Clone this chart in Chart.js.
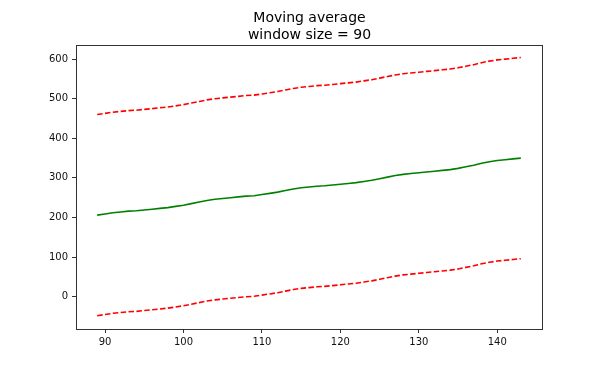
<!DOCTYPE html>
<html>
<head>
<meta charset="utf-8">
<script src="https://cdn.jsdelivr.net/npm/chart.js@4/dist/chart.umd.min.js"></script>
<style>
  html, body { margin: 0; padding: 0; background: #fff; }
  #wrap { width: 602px; height: 376px; }
</style>
</head>
<body>
<div id="wrap"><canvas id="chart" width="602" height="376"></canvas></div>
<script>
// x positions (window end index)
const xValues = [89, 90, 91, 92, 93, 94, 95, 96, 97, 98, 99, 100, 101, 102, 103, 104, 105, 106, 107, 108,
  109, 110, 111, 112, 113, 114, 115, 116, 117, 118, 119, 120, 121, 122, 123, 124, 125, 126, 127, 128,
  129, 130, 131, 132, 133, 134, 135, 136, 137, 138, 139, 140, 141, 142, 143]

// rolling mean
const meanValues = [206, 209, 212, 214, 216, 217, 219, 221, 223, 225, 228, 231, 235, 239, 243, 246, 248, 250, 252, 254,
  255, 258, 261, 264, 268, 272, 275, 277, 279, 280, 282, 284, 286, 288, 291, 294, 298, 302, 306, 309,
  311, 313, 315, 317, 319, 321, 324, 328, 332, 337, 341, 344, 346, 348, 350]

// upper / lower bands
const upperValues = [460, 463, 466, 468, 470, 471, 473, 475, 477, 479, 482, 485, 489, 493, 497, 500, 502, 504, 506, 508,
  509, 512, 515, 518, 522, 526, 529, 531, 533, 534, 536, 538, 540, 542, 545, 548, 552, 556, 560, 563,
  565, 567, 569, 571, 573, 575, 578, 582, 586, 591, 595, 598, 600, 602, 604]
const lowerValues = [-48, -45, -42, -40, -38, -37, -35, -33, -31, -29, -26, -23, -19, -15, -11, -8, -6, -4, -2, 0,
  1, 4, 7, 10, 14, 18, 21, 23, 25, 26, 28, 30, 32, 34, 37, 40, 44, 48, 52, 55,
  57, 59, 61, 63, 65, 67, 70, 74, 78, 83, 87, 90, 92, 94, 96]

const xTicks = [90, 100, 110, 120, 130, 140]
const yTicks = [0, 100, 200, 300, 400, 500, 600]

const titleLines = ['Moving average', 'window size = 90']

const toPoints = vals => vals.map((v, i) => ({ x: xValues[i], y: v }))

// box around the plot area, like matplotlib's spines
const frame = {
  id: 'frame',
  afterDraw(chart) {
    const { ctx, chartArea: a } = chart
    ctx.save()
    ctx.strokeStyle = '#333'
    ctx.lineWidth = 1
    ctx.strokeRect(Math.round(a.left) + 0.5, Math.round(a.top) + 0.5,
      Math.round(a.right - a.left), Math.round(a.bottom - a.top))
    ctx.restore()
  }
}

const tickFont = { family: 'DejaVu Sans', size: 10 }
const axisGrid = { drawOnChartArea: false, drawTicks: true, tickLength: 4, color: '#333', lineWidth: 1 }

new Chart(document.getElementById('chart'), {
  type: 'line',
  data: {
    datasets: [
      {
        data: toPoints(meanValues),
        borderColor: '#008000',
        borderWidth: 1.6,
        pointRadius: 0,
        tension: 0
      },
      {
        data: toPoints(upperValues),
        borderColor: '#ff0000',
        borderWidth: 1.6,
        borderDash: [5.5, 2.4],
        pointRadius: 0,
        tension: 0
      },
      {
        data: toPoints(lowerValues),
        borderColor: '#ff0000',
        borderWidth: 1.6,
        borderDash: [5.5, 2.4],
        pointRadius: 0,
        tension: 0
      }
    ]
  },
  options: {
    responsive: false,
    animation: false,
    devicePixelRatio: 1,
    // left padding + right spacer axis keep the title centred over the plot
    layout: { padding: { left: 17, right: 0, top: 0, bottom: 0 } },
    plugins: {
      legend: { display: false },
      tooltip: { enabled: false },
      title: {
        display: true,
        text: titleLines,
        color: '#000',
        font: { family: 'DejaVu Sans', size: 14, weight: 'normal', lineHeight: 1.2 },
        padding: { top: 10, bottom: 1.5 }
      }
    },
    scales: {
      x: {
        type: 'linear',
        min: 86.3,
        max: 145.7,
        grid: axisGrid,
        border: { display: true, color: '#333' },
        ticks: { color: '#111', font: tickFont, padding: 3, maxRotation: 0 },
        afterBuildTicks: scale => { scale.ticks = xTicks.map(v => ({ value: v })) },
        afterFit: scale => { scale.height = 47 }
      },
      y: {
        type: 'linear',
        min: -81.6,
        max: 635.4,
        grid: axisGrid,
        border: { display: true, color: '#333' },
        ticks: { color: '#111', font: tickFont, padding: 4 },
        afterBuildTicks: scale => { scale.ticks = yTicks.map(v => ({ value: v })) },
        afterFit: scale => { scale.width = 59 }
      },
      spacer: {
        type: 'linear',
        position: 'right',
        min: 0,
        max: 1,
        grid: { display: false },
        border: { display: false },
        ticks: { display: false },
        afterFit: scale => { scale.width = 60 }
      }
    }
  },
  plugins: [frame]
})
</script>
</body>
</html>
